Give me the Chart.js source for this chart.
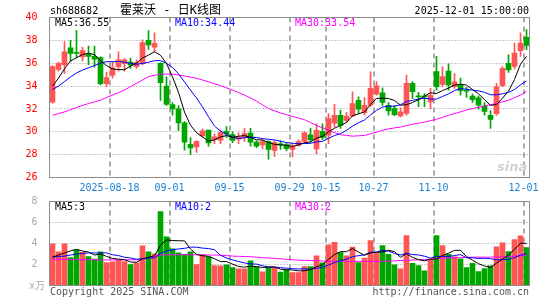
<!DOCTYPE html>
<html><head><meta charset="utf-8">
<script src="https://cdn.jsdelivr.net/npm/chart.js@4"></script>
<style>
html,body{margin:0;padding:0;background:#fff}
#wrap{position:relative;width:545px;height:300px;overflow:hidden;font-family:"DejaVu Sans Mono",monospace;font-size:10px}
.t{position:absolute;white-space:pre;line-height:12px}
.box{position:absolute;left:0;width:545px}
</style></head><body>
<div id="wrap">
 <div class="box" style="top:0;height:200px"><canvas id="kc"></canvas></div>
 <div class="box" style="top:185px;height:115px"><canvas id="vc"></canvas></div>
 <div class="t" style="left:50px;top:5px;color:#000">sh688682</div>
 <div class="t" style="left:120px;top:3px;line-height:14px;font-size:12px;font-family:'DejaVu Sans Mono','Noto Sans CJK SC',monospace;color:#000">霍莱沃 - 日K线图</div>
 <div class="t" style="right:16px;top:5px;color:#000">2025-12-01 15:00:00</div>
 <div class="t" style="left:55px;top:17px;color:#000">MA5:36.55</div>
 <div class="t" style="left:175px;top:17px;color:#0000ff">MA10:34.44</div>
 <div class="t" style="left:295px;top:17px;color:#ff00ff">MA30:33.54</div>
 <div class="t" style="left:55px;top:200.5px;color:#000">MA5:3</div>
 <div class="t" style="left:175px;top:200.5px;color:#0000ff">MA10:2</div>
 <div class="t" style="left:295px;top:200.5px;color:#ff00ff">MA30:2</div>
 <div class="t" style="left:29px;top:280px;color:#aaa;font-family:'DejaVu Sans Mono','Noto Sans CJK SC',monospace">x万</div>
 <div class="t" style="left:50px;top:285.5px;color:#555">Copyright 2025 SINA.COM</div>
 <div class="t" style="right:16px;top:285.5px;color:#555">http://finance.sina.com.cn</div>
 <div class="t" style="left:497px;top:159px;font:italic bold 13px 'DejaVu Sans',sans-serif;color:#d8d0d0">sina</div>
</div>
<script>
const dates = ['2025-08-04','2025-08-05','2025-08-06','2025-08-07','2025-08-08','2025-08-11','2025-08-12','2025-08-13','2025-08-14','2025-08-15',
'2025-08-18','2025-08-19','2025-08-20','2025-08-21','2025-08-22','2025-08-25','2025-08-26','2025-08-27','2025-08-28','2025-08-29',
'2025-09-01','2025-09-02','2025-09-03','2025-09-04','2025-09-05','2025-09-08','2025-09-09','2025-09-10','2025-09-11','2025-09-12',
'2025-09-15','2025-09-16','2025-09-17','2025-09-18','2025-09-19','2025-09-22','2025-09-23','2025-09-24','2025-09-25','2025-09-26',
'2025-09-29','2025-09-30','2025-10-09','2025-10-10','2025-10-13','2025-10-14','2025-10-15','2025-10-16','2025-10-17','2025-10-20',
'2025-10-21','2025-10-22','2025-10-23','2025-10-24','2025-10-27','2025-10-28','2025-10-29','2025-10-30','2025-10-31','2025-11-03',
'2025-11-04','2025-11-05','2025-11-06','2025-11-07','2025-11-10','2025-11-11','2025-11-12','2025-11-13','2025-11-14','2025-11-17',
'2025-11-18','2025-11-19','2025-11-20','2025-11-21','2025-11-24','2025-11-25','2025-11-26','2025-11-27','2025-11-28','2025-12-01'];

const open = [32.6,35.45,35.85,37.35,36.95,36.55,36.8,36.6,36.5,34.2, 34.95,35.7,35.95,36.1,35.7,35.95,38.0,37.4,36.0,34.0,
32.37,32.0,30.78,28.9,28.67,29.64,30.14,29.32,29.26,30.05, 29.76,29.35,29.5,29.88,29.09,28.85,29.15,28.38,28.95,28.88,
28.45,28.8,29.15,29.74,28.5,30.03,29.7,30.75,31.44,31.0, 31.38,32.76,31.68,32.32,33.3,33.4,32.32,32.03,31.38,31.6,
34.24,33.1,33.12,32.62,35.26,34.15,35.32,33.94,34.09,33.62, 33.12,32.97,32.26,31.44,31.59,34.03,36.0,35.71,37.09,38.26];
const high = [35.8,36.1,37.9,38.0,38.85,37.4,37.5,37.5,36.55,35.2, 36.15,37.0,36.4,36.45,36.3,38.05,38.85,38.65,36.05,34.8,
32.55,32.3,30.9,29.5,29.2,30.25,30.15,29.8,30.1,30.45, 30.0,29.9,30.3,30.3,29.2,29.3,29.2,29.2,29.2,29.0,
29.0,29.3,30.0,30.3,30.7,30.7,31.6,32.4,31.9,31.7, 33.5,33.05,33.0,35.25,34.4,33.85,32.55,32.3,32.1,34.97,
34.4,33.45,33.35,33.8,36.6,35.7,35.95,35.1,34.7,33.9, 33.3,33.15,32.55,31.85,34.24,35.7,36.74,37.76,38.65,38.94];
const low = [32.5,35.3,35.1,36.15,36.5,36.2,35.85,35.65,34.1,33.95, 34.7,35.3,35.3,35.55,35.55,35.85,37.2,37.0,32.75,32.3,
31.45,30.1,28.4,28.0,28.2,29.55,28.75,28.95,28.95,29.5, 29.05,28.95,29.15,28.75,28.6,28.5,27.6,27.85,28.45,28.35,
27.8,28.75,29.0,29.1,28.06,29.3,28.95,30.4,30.3,30.8, 31.3,31.6,31.45,32.2,33.2,32.3,31.45,31.4,31.3,31.45,
32.9,32.2,32.2,32.0,33.65,33.94,33.65,33.8,33.2,33.0, 32.56,31.97,31.45,30.3,31.44,33.94,35.2,35.5,36.6,37.18];
const close = [35.7,36.0,37.0,36.85,36.85,37.1,36.6,36.35,34.2,34.75, 35.6,36.3,36.3,35.82,36.05,37.8,37.6,37.75,34.3,32.4,
32.0,30.78,29.1,28.58,29.17,30.08,29.02,29.55,29.93,29.79, 29.24,29.56,29.85,29.09,28.74,29.15,28.45,29.05,28.85,28.53,
28.7,29.15,29.9,29.32,30.12,29.5,31.15,31.45,30.56,31.38, 32.47,31.97,32.32,33.8,34.03,32.56,31.82,31.5,31.74,34.24,
33.5,33.05,33.05,33.2,33.94,34.82,34.09,34.38,33.59,33.55, 32.82,32.32,31.79,31.09,33.94,35.56,35.41,36.88,37.76,37.56];

const ma5 = [34.0,34.7,35.5,36.2,36.48,36.76,36.88,36.75,36.22,35.8, 35.5,35.44,35.43,35.75,36.01,36.45,36.71,37.0,36.7,35.97,
34.81,33.45,31.72,30.57,29.93,29.54,29.19,29.28,29.55,29.67, 29.51,29.61,29.67,29.51,29.3,29.28,29.06,28.9,28.85,28.81,
28.72,28.86,29.03,29.12,29.44,29.6,30.0,30.31,30.56,30.81, 31.4,31.57,31.74,32.39,32.92,32.94,32.91,32.74,32.33,32.37,
32.56,32.81,33.12,33.41,33.35,33.61,33.82,34.09,34.16,34.09, 33.69,33.33,32.81,32.31,32.39,32.94,33.56,34.58,35.91,36.6];
const ma10 = [33.7,34.0,34.4,34.8,35.15,35.4,35.6,35.8,36.0,36.14, 36.13,36.16,36.09,35.99,35.91,35.98,36.08,36.22,36.23,35.99,
35.63,35.08,34.36,33.64,32.95,32.18,31.32,30.5,30.06,29.8, 29.53,29.4,29.48,29.53,29.49,29.4,29.34,29.29,29.18,29.06,
29.0,28.96,28.97,28.99,29.13,29.16,29.43,29.67,29.84,30.13, 30.5,30.79,31.03,31.48,31.87,32.17,32.24,32.24,32.36,32.65,
32.75,32.86,32.93,32.87,32.86,33.09,33.32,33.61,33.79,33.72, 33.65,33.58,33.45,33.24,33.24,33.32,33.45,33.7,34.11,34.44];
const ma30 = [31.44,31.6,31.74,31.93,32.12,32.3,32.47,32.62,32.76,33.0, 33.21,33.43,33.65,33.95,34.24,34.53,34.82,34.95,35.03,35.05,
35.05,34.97,34.88,34.78,34.68,34.53,34.38,34.2,34.03,33.84, 33.65,33.43,33.21,32.95,32.68,32.36,32.03,31.84,31.65,31.5,
31.35,31.2,31.06,30.81,30.56,30.34,30.12,29.93,29.74,29.68, 29.62,29.65,29.68,29.82,29.97,30.12,30.26,30.34,30.41,30.55,
30.66,30.75,30.85,30.97,31.09,31.27,31.44,31.6,31.74,31.9, 32.03,32.15,32.26,32.37,32.47,32.62,32.76,32.98,33.21,33.54];

const volume = [3.97,3.21,3.97,2.67,3.4,3.17,2.76,2.51,3.21,2.19, 2.25,2.41,2.29,2.0,2.16,3.78,3.21,3.02,7.05,4.63,
3.49,3.11,2.98,3.21,2.0,2.92,2.73,1.9,1.87,1.97, 1.71,1.59,1.59,2.35,1.78,1.3,1.71,1.71,1.27,1.49,
1.24,1.24,1.81,1.81,2.83,2.16,3.87,4.1,3.14,2.83, 3.65,2.19,2.6,4.29,3.08,3.81,2.98,1.97,1.59,4.76,
2.1,1.9,1.4,2.44,4.76,3.81,2.98,2.73,2.54,1.71, 2.1,1.33,1.62,1.87,3.68,4.06,3.24,4.38,4.73,3.62];
const vma5 = [2.7,2.9,3.1,3.3,3.44,3.28,3.19,2.9,3.01,2.77, 2.58,2.51,2.47,2.23,2.22,2.53,2.69,2.83,3.84,4.34,
4.28,4.26,4.25,3.48,2.96,2.84,2.77,2.55,2.28,2.28, 2.04,1.81,1.75,1.84,1.8,1.72,1.75,1.77,1.55,1.5,
1.48,1.39,1.41,1.52,1.79,1.97,2.5,2.95,3.22,3.22, 3.52,3.18,2.88,3.11,3.16,3.19,3.35,3.23,2.69,3.02,
2.68,2.46,2.35,2.52,2.52,2.86,3.08,3.34,3.36,2.75, 2.41,2.08,1.86,1.73,2.12,2.51,2.89,3.45,4.02,4.01];
const vma10 = [2.7,2.75,2.8,2.9,3.0,3.05,3.1,3.1,3.1,3.11, 2.93,2.85,2.69,2.62,2.5,2.56,2.6,2.65,3.04,3.28,
3.41,3.48,3.54,3.66,3.65,3.56,3.52,3.4,2.88,2.62, 2.44,2.29,2.15,2.06,2.04,1.88,1.78,1.76,1.7,1.65,
1.6,1.57,1.59,1.54,1.65,1.73,1.95,2.18,2.37,2.51, 2.75,2.84,2.92,3.17,3.19,3.36,3.27,3.06,2.9,3.09,
2.94,2.91,2.79,2.61,2.77,2.77,2.77,2.85,2.94,2.64, 2.64,2.58,2.6,2.55,2.44,2.46,2.49,2.66,2.88,3.07];
const vma30 = [2.5,2.5,2.48,2.47,2.46,2.45,2.45,2.45,2.44,2.44, 2.44,2.44,2.44,2.45,2.45,2.5,2.6,2.75,2.9,2.92,
2.93,2.93,2.92,2.92,2.92,2.92,2.9,2.9,2.88,2.85, 2.8,2.78,2.76,2.74,2.7,2.66,2.62,2.58,2.54,2.5,
2.45,2.42,2.4,2.38,2.36,2.33,2.3,2.3,2.3,2.3, 2.3,2.3,2.3,2.3,2.3,2.3,2.32,2.35,2.38,2.4,
2.42,2.45,2.48,2.5,2.55,2.6,2.62,2.64,2.66,2.68, 2.7,2.7,2.7,2.7,2.72,2.74,2.76,2.8,2.84,2.88];

const axisDates = ['2025-08-18','2025-09-01','2025-09-15','2025-09-29','2025-10-15','2025-10-27','2025-11-10','2025-12-01'];
const priceTicks = {min:26, max:40, step:2};
const volTicks = {min:0, max:8, step:2};

const FONT = '"DejaVu Sans Mono", monospace';
const RED = '#ff5555', GREEN = '#00a600';
const up = close.map((c,i)=> c >= open[i]);
const colors = up.map(u => u ? RED : GREEN);
const slot = dates.map((d,i) => i + 0.5);
const tickVals = axisDates.map(d => dates.indexOf(d));
const tickText = axisDates.map((d,i) => i === 0 ? d : d.slice(5));
const pts = arr => slot.map((x,i) => ({x, y: arr[i]}));

// frame around the plot area
const frame = {id:'frame', afterDraw(c){
  const a = c.chartArea, g = c.ctx;
  g.save(); g.strokeStyle = '#8c8c8c'; g.lineWidth = 1; g.setLineDash([]);
  g.strokeRect(a.left, a.top, a.right - a.left, a.bottom - a.top);
  g.restore();
}};
// dotted horizontal grid at every tick of the y scale
const hgrid = {id:'hgrid', beforeDatasetsDraw(c){
  const s = c.scales.y, a = c.chartArea, g = c.ctx;
  g.save(); g.strokeStyle = '#999999'; g.lineWidth = 1; g.setLineDash([1,2]);
  s.ticks.forEach(t => {
    const y = Math.round(s.getPixelForValue(t.value) - 0.5) + 0.5;
    g.beginPath(); g.moveTo(a.left, y); g.lineTo(a.right, y); g.stroke();
  });
  g.restore();
}};

function lineDs(arr, color){
  return {type:'line', data: pts(arr), borderColor: color, borderWidth: 1, pointRadius: 0, tension: 0, order: 0};
}
function xScale(showLabels, h){
  return {type:'linear', min:0, max:dates.length, offset:false,
    afterBuildTicks: s => { s.ticks = tickVals.map(v => ({value: v})); },
    afterFit: s => { s.height = h; },
    ticks:{display: showLabels, autoSkip:false, maxRotation:0, padding:5, color:'#1a7fd0',
      font:{family:FONT, size:10}, callback:(v,i) => tickText[i]},
    grid:{color:'#aaaaaa', lineWidth:2, drawTicks:false, offset:false},
    border:{display:false, dash:[5,4]}};
}
const base = {responsive:true, maintainAspectRatio:false, animation:false, devicePixelRatio:1, events:[],
  plugins:{legend:{display:false}, tooltip:{enabled:false}}};

new Chart(document.getElementById('kc'), {
  type:'bar',
  data:{datasets:[
    lineDs(ma5,'#000000'), lineDs(ma10,'#0000ff'), lineDs(ma30,'#ff00ff'),
    {data: slot.map((x,i)=>({x, y:[open[i], close[i]]})), backgroundColor: colors, barThickness:5, grouped:false, minBarLength:1, order:1},
    {data: slot.map((x,i)=>({x, y:[low[i], high[i]]})), backgroundColor: colors, barThickness:1, grouped:false, order:2}
  ]},
  options: Object.assign({}, base, {
    layout:{padding:{left:0, right:15.5, top:17.5, bottom:0}},
    scales:{
      x: xScale(true, 22.5),
      y:{min:priceTicks.min, max:priceTicks.max, afterFit: s => { s.width = 49.5; },
        ticks:{stepSize:priceTicks.step, padding:4, color:'#ff0000', font:{family:FONT, size:10}},
        grid:{display:false}, border:{display:false}}
    }
  }),
  plugins:[hgrid, frame]
});

new Chart(document.getElementById('vc'), {
  type:'bar',
  data:{datasets:[
    lineDs(vma5,'#000000'), lineDs(vma10,'#0000ff'), lineDs(vma30,'#ff00ff'),
    {data: slot.map((x,i)=>({x, y: volume[i]})), backgroundColor: colors, barThickness:5, grouped:false, order:1}
  ]},
  options: Object.assign({}, base, {
    layout:{padding:{left:0, right:15.5, top:16.5, bottom:14.5}},
    scales:{
      x: xScale(false, 0),
      y:{min:volTicks.min, max:volTicks.max, afterFit: s => { s.width = 49.5; },
        ticks:{stepSize:volTicks.step, padding:4, color:'#aaa', font:{family:FONT, size:10},
          callback: v => v === 0 ? '' : v},
        grid:{display:false}, border:{display:false}}
    }
  }),
  plugins:[hgrid, frame]
});
</script>
</body></html>
